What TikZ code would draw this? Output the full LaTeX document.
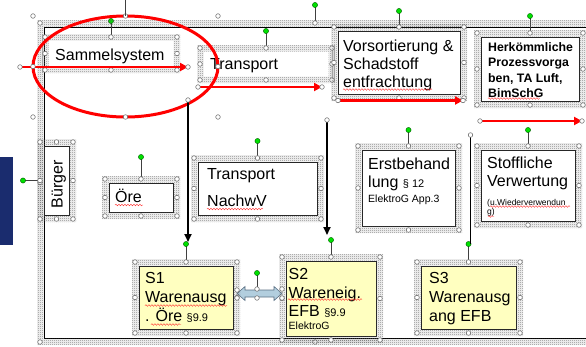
\documentclass[tikz,border=0pt]{standalone}
\usepackage{fontspec}
\setmainfont{Liberation Sans}[Ligatures=NoCommon]
\usetikzlibrary{arrows.meta,patterns.meta,decorations.pathmorphing}

\definecolor{notefill}{RGB}{255,255,192}
\definecolor{rotgreen}{RGB}{0,224,0}
\definecolor{linkfill}{RGB}{178,206,222}
\definecolor{linkdraw}{RGB}{90,110,130}
\definecolor{slideblue}{RGB}{26,44,110}

\tikzdeclarepattern{
  name=seldots,
  bottom left={(0pt,0pt)},
  top right={(2pt,2pt)},
  tile size={(2pt,2pt)},
  code={\fill (0pt,0pt) rectangle (1pt,1pt); \fill (1pt,1pt) rectangle (2pt,2pt);}
}

\newcommand\fs[2]{\fontsize{#1}{#2}\selectfont}
\newcommand\handle[1]{\filldraw[handlestyle] (#1) circle (2.3pt);}
\newcommand\selband[1]{%
  \fill[pattern=seldots, pattern color=black!65, even odd rule]
    ([shift={(-3pt,-3pt)}]#1.south west) rectangle ([shift={(3pt,3pt)}]#1.north east)
    ([shift={(3.5pt,3.5pt)}]#1.south west) rectangle ([shift={(-3.5pt,-3.5pt)}]#1.north east);
  \foreach \a in {north west,north,north east,east,south east,south,south west,west}
    {\handle{#1.\a}}%
}
\newcommand\rothandle[2]{%
  \draw[rotline] (#1) -- ++(#2);
  \filldraw[rotstyle] (#1) ++(#2) circle (2.6pt);}

\tikzset{
  handlestyle/.style={draw=black!60, fill=white, line width=0.5pt},
  rotline/.style={black!75, line width=0.6pt},
  rotstyle/.style={draw=green!35!black, fill=rotgreen, line width=0.4pt},
  plainbox/.style={inner sep=0pt, outer sep=4pt},
  shapebox/.style={plainbox, draw=black!85, line width=0.9pt},
  notebox/.style={shapebox, fill=notefill},
  boxtext/.style={inner sep=0pt, anchor=north west, align=left},
  redarrow/.style={red, line width=2.6pt, -{Triangle[length=8pt,width=8pt]}},
  flowarrow/.style={black, line width=1.8pt, -{Triangle[length=8pt,width=7pt]}},
  spellmark/.style={red!85, line width=0.4pt, decorate,
    decoration={snake, amplitude=0.8pt, segment length=3pt}},
}

\begin{document}
\begin{tikzpicture}[x=1pt,y=-1pt]
\useasboundingbox (0,0) rectangle (586,346);
% edge of the slide beside
\fill[slideblue] (0,157) rectangle (13,245);

% frame and boxes
\node[plainbox, draw=black, line width=0.6pt, minimum width=542pt, minimum height=311pt] (frame) at (315,182.5) {};
\node[plainbox, minimum width=124pt, minimum height=25pt] (sammel) at (111,53.5) {};
\node[plainbox, minimum width=124pt, minimum height=24pt] (trans) at (266,64) {};
\node[shapebox, minimum width=122pt, minimum height=63pt] (vors) at (399,62.5) {};
\node[shapebox, minimum width=98pt, minimum height=64pt] (herk) at (530,69) {};
\node[shapebox, minimum width=25pt, minimum height=69pt] (buerger) at (56.5,180.5) {};
\node[shapebox, minimum width=64pt, minimum height=29pt] (oere) at (141,197.5) {};
\node[shapebox, minimum width=119pt, minimum height=53pt] (nachw) at (257.5,188.5) {};
\node[shapebox, minimum width=93pt, minimum height=76pt] (erst) at (408.5,188) {};
\node[shapebox, minimum width=94pt, minimum height=71pt] (stoff) at (528,185.5) {};
\node[notebox, minimum width=94pt, minimum height=63pt] (s1) at (186,297.5) {};
\node[notebox, minimum width=90pt, minimum height=75pt] (s2) at (331,298.5) {};
\node[notebox, minimum width=95pt, minimum height=63pt] (s3) at (468.5,297.5) {};
% two-way link S1 -- S2
\filldraw[draw=linkdraw, fill=linkfill, line width=0.6pt]
  (237,293.5) -- (245,286.5) -- (245,290) -- (274,290) -- (274,286.5) -- (282,293.5)
  -- (274,300.5) -- (274,297) -- (245,297) -- (245,300.5) -- cycle;
\coordinate (link-top) at (257,289);

% rotation handles
\rothandle{frame.north}{0,-18}
\foreach \b/\d in {sammel/16,trans/17,vors/16,herk/17,oere/22,nachw/17,erst/16,stoff/16,s1/18,s2/17,s3/18}
  {\rothandle{\b.north}{0,-\d}}
\rothandle{buerger.west}{-17,0}
\rothandle{link-top}{0,-16}

% selection frames
\selband{frame}
\foreach \b in {sammel,trans,vors,herk,buerger,oere,nachw,erst,stoff,s1,s2,s3} {\selband{\b}}

% texts
\node[boxtext, font=\fs{16}{18}] (sammel-t) at (55,48.5) {Sammelsystem};
\node[boxtext, font=\fs{16}{18}] (trans-t) at (210,58) {Transport};
\node[boxtext, font=\fs{16}{18.3}] (vors-t) at (343,39.5) {Vorsortierung \&\\Schadstoff\\entfrachtung};
\node[boxtext, font=\bfseries\fs{12.3}{15.5}] (herk-t) at (488,42.3) {Herkömmliche\\Prozessvorga\\ben, TA Luft,\\BimSchG};
\node[rotate=90, inner sep=0pt, anchor=base, font=\fs{16}{18}] (buerger-t) at (62.5,184) {Bürger};
\node[boxtext, anchor=base west, font=\fs{16}{18}] (oere-t) at (115,202.7) {Öre};
\node[boxtext, font=\fs{16}{27.7}] (nachw-t) at (207,168) {Transport\\NachwV};
\node[boxtext, font=\fs{16}{18.3}] (erst-t) at (368,157.6) {Erstbehand\\lung {\fs{11}{12}§ 12}\\[-3.3pt]{\fs{10.5}{12}ElektroG App.3}};
\node[boxtext, font=\fs{16}{18.3}] (stoff-t) at (487,156.8) {Stoffliche\\Verwertung\\{\fs{8.5}{9.5}(u.Wiederverwendun}\\[-8.8pt]{\fs{8.5}{9.5}g)}};
\node[boxtext, font=\fs{16}{19}] (s1-t) at (145,272.5) {S1\\Warenausg\\. Öre {\fs{11}{12}§9.9}};
\node[boxtext, font=\fs{16}{18.3}] (s2-t) at (288.5,268.5) {S2\\Wareneig.\\EFB {\fs{11}{12}§9.9}\\[-5pt]{\fs{10.5}{12}ElektroG}};
\node[boxtext, font=\fs{16}{19}] (s3-t) at (429,272.5) {S3\\Warenausg\\ang EFB};

% spelling marks
\draw[spellmark] (343,89.5) -- (432,89.5);
\draw[spellmark] (488,98.5) -- (540,98.5);
\draw[spellmark] (115,205) -- (143,205);
\draw[spellmark] (207,209) -- (263,209);
\draw[spellmark] (145,305.5) -- (227,305.5);
\draw[spellmark] (151,324.5) -- (181,324.5);
\draw[spellmark] (288,299.5) -- (362,299.5);
\draw[spellmark] (490,206.5) -- (570,206.5);
\draw[spellmark] (488,216.5) -- (494,216.5);

% ring round the collecting system
\draw[red, line width=3pt] (125.5,66.5) ellipse [x radius=92.5pt, y radius=50.5pt];

% arrows
\coordinate (r1a) at (20,67);   \coordinate (r1b) at (188,67);
\coordinate (r2a) at (198,87);  \coordinate (r2b) at (322,87);
\coordinate (r3a) at (338,100.5); \coordinate (r3b) at (463,100.5);
\coordinate (r4a) at (480,121); \coordinate (r4b) at (582,121);
\coordinate (d1a) at (188,100); \coordinate (d2a) at (327,120); \coordinate (d3a) at (470.5,135);
\draw[redarrow] (r1a) -- (r1b);
\draw[redarrow] (r2a) -- (r2b);
\draw[redarrow] (r3a) -- (r3b);
\draw[redarrow] (r4a) -- (r4b);
\draw[flowarrow, shorten >=20pt] (d1a) -- (d1a |- s1.north);
\draw[flowarrow, shorten >=22pt] (d2a) -- (d2a |- s2.north);
\draw[black, line width=1.8pt, shorten >=18pt] (d3a) -- (d3a |- s3.north);

% end handles
\foreach \p in {r1a,r1b,r2a,r2b,r3a,r3b,r4a,r4b,d1a,d2a,d3a} {\handle{\p}}
\foreach \p in {(33,16),(125.5,16),(218,16),(33,66.5),(218,66.5),(33,117),(125.5,117),(218,117)}
  {\filldraw[handlestyle] \p circle (2.3pt);}
\foreach \p in {(237,290),(237,298),(257,289),(257,298),(282,289),(282,298)}
  {\filldraw[handlestyle] \p circle (2.3pt);}
\draw[rotline] (125.5,16) -- (125.5,0);
\end{tikzpicture}
\end{document}
